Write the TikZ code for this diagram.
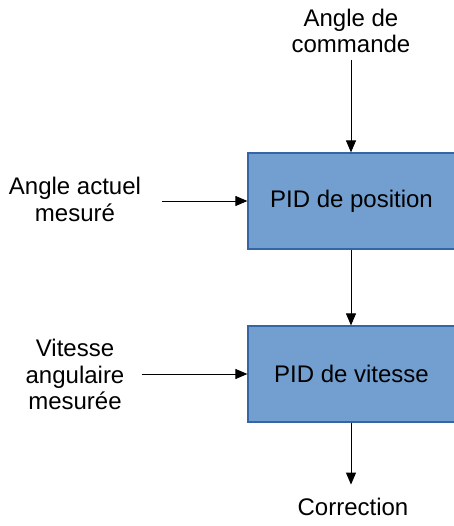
\documentclass[tikz,border=0pt]{standalone}
\usepackage{fontspec}
\setmainfont{Liberation Sans}
\usetikzlibrary{arrows.meta}
\definecolor{boxfill}{HTML}{729FCF}
\definecolor{boxdraw}{HTML}{3465A4}
\begin{document}
\begin{tikzpicture}[x=0.75pt,y=-0.75pt,
  pidbox/.style={draw=boxdraw,fill=boxfill,line width=0.9pt,minimum width=159pt,minimum height=72pt,inner sep=0pt,font=\fontsize{18}{19.8}\selectfont},
  lbl/.style={align=center,inner sep=0pt,font=\fontsize{18}{19.8}\selectfont},
  conn/.style={draw=black,line width=0.75pt,-{Triangle[length=9pt,width=7.5pt]}}]
\useasboundingbox (0,0) rectangle (454,526);
\clip (0,0) rectangle (454,526);
\node[pidbox] (pos) at (354,201) {\hspace*{-3.75pt}PID de position};
\node[pidbox] (vit) at (354,374) {\hspace*{-3.75pt}PID de vitesse};
\node[lbl] (cmd) at (351,31) {Angle de\\commande};
\node[lbl] (act) at (75,199.5) {Angle actuel\\mesuré};
\node[lbl] (mes) at (75,374.5) {Vitesse\\angulaire\\mesurée};
\node[lbl] (corr) at (353,507) {Correction};
\draw[conn] ([yshift=-5pt]cmd.south -| cmd.south) -- (pos.north -| cmd.south);
\draw[conn] ([xshift=15.75pt]act.east |- pos.west) -- (pos.west);
\draw[conn] ([xshift=12.75pt]mes.east |- vit.west) -- (vit.west);
\draw[conn] (pos.south -| cmd.south) -- (vit.north -| cmd.south);
\draw[conn] (vit.south -| cmd.south) -- ([yshift=10pt]corr.north -| cmd.south);
\end{tikzpicture}
\end{document}
